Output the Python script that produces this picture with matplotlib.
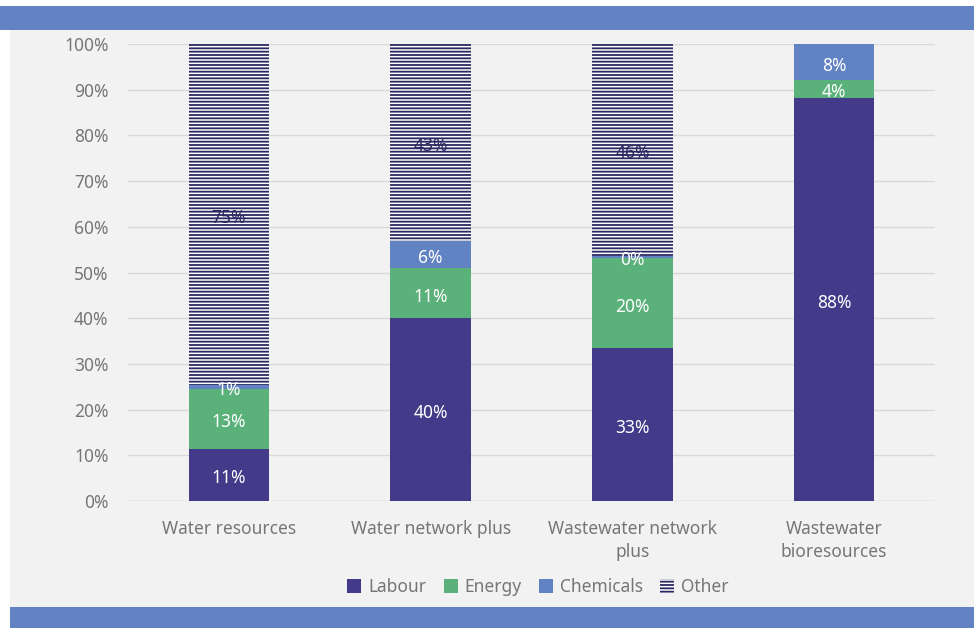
import numpy as np
import matplotlib.pyplot as plt
from matplotlib.patches import Rectangle, Patch

categories = ["Water resources", "Water network plus", "Wastewater network\nplus", "Wastewater\nbioresources"]
labour = [11.4, 40.0, 33.4, 88.2]
energy = [13.1, 11.0, 19.8, 3.9]
chemicals = [0.9, 5.9, 0.4, 7.9]
other = [74.6, 43.1, 46.4, 0.0]

series = [("Labour", labour), ("Energy", energy), ("Chemicals", chemicals), ("Other", other)]
colors = {"Labour": "#433a8a", "Energy": "#5bb17a", "Chemicals": "#6182c3", "Other": "white"}
navy = "#2b2760"
text_grey = "#767676"

plt.rcParams["font.family"] = ["Noto Sans", "DejaVu Sans"]
plt.rcParams["hatch.linewidth"] = 1.3

fig = plt.figure(figsize=(9.74, 6.28), dpi=100, facecolor="white")

# grey panel with blue bands top and bottom
fig.patches.append(Rectangle((10 / 974, 0), 1, 1 - 6 / 628, transform=fig.transFigure,
                             facecolor="#f2f2f2", edgecolor="none", zorder=-3))
fig.patches.append(Rectangle((0, 1 - 30 / 628), 1, 24 / 628, transform=fig.transFigure,
                             facecolor="#6282c3", edgecolor="none", zorder=-2))
fig.patches.append(Rectangle((10 / 974, 0), 1, 21 / 628, transform=fig.transFigure,
                             facecolor="#6282c3", edgecolor="none", zorder=-2))

ax = fig.add_axes([128 / 974, 1 - 501 / 628, 807 / 974, 457 / 628])
ax.set_facecolor("none")

x = np.arange(len(categories))
bottom = np.zeros(len(categories))
for name, vals in series:
    vals = np.array(vals)
    if name == "Other":
        ax.bar(x, vals, 0.4, bottom=bottom, color="white", edgecolor=navy,
               hatch="-----", linewidth=0, zorder=2)
    else:
        ax.bar(x, vals, 0.4, bottom=bottom, color=colors[name], linewidth=0, zorder=2)
    for xi, b, v in zip(x, bottom, vals):
        if v <= 0:
            continue
        tc = navy if name == "Other" else "white"
        ax.annotate(f"{v:.0f}%", (xi, b + v / 2), xytext=(0, -2.5), textcoords="offset points",
                    ha="center", va="center", fontsize=12.5, color=tc, zorder=3)
    bottom += vals

ax.set_xlim(-0.5, 3.5)
ax.set_ylim(0, 100)
ax.set_yticks(np.arange(0, 101, 10))
ax.set_yticklabels([f"{t}%" for t in range(0, 101, 10)], fontsize=12.5, color=text_grey)
ax.set_xticks(x)
ax.set_xticklabels(categories, fontsize=12.5, color=text_grey, linespacing=1.35)
ax.tick_params(length=0, pad=14)
ax.tick_params(axis="x", pad=14)
ax.grid(axis="y", color="#d9d9d9", linewidth=1, zorder=0)
for s in ax.spines.values():
    s.set_visible(False)
ax.axhline(0, color="#d9d9d9", linewidth=1, zorder=1)

handles = [Patch(facecolor=colors["Labour"]), Patch(facecolor=colors["Energy"]),
           Patch(facecolor=colors["Chemicals"]),
           Patch(facecolor="white", edgecolor=navy, hatch="-----", linewidth=0)]
leg = fig.legend(handles, ["Labour", "Energy", "Chemicals", "Other"], loc="center",
                 bbox_to_anchor=(538 / 974, 1 - 587 / 628), ncol=4, frameon=False,
                 fontsize=12.5, handlelength=0.8, handleheight=0.8, handletextpad=0.4,
                 columnspacing=1.0)
for t in leg.get_texts():
    t.set_color(text_grey)

fig.savefig("out.png", dpi=100, facecolor=fig.get_facecolor())
